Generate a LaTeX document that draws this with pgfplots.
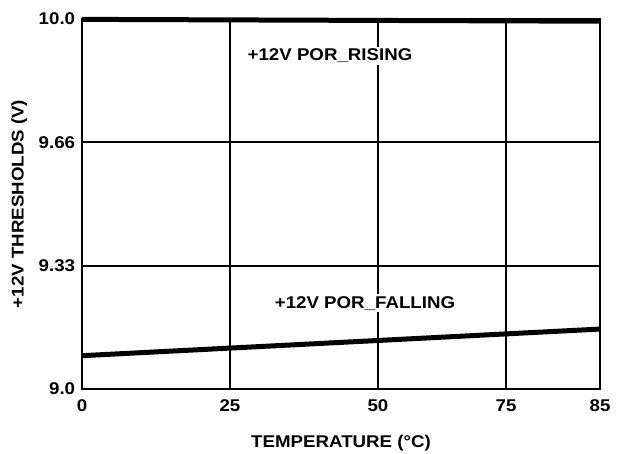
\documentclass[border=0pt]{standalone}
\usepackage{fontspec}
\setmainfont{Liberation Sans}[FakeStretch=1.1]
\usepackage{pgfplots}
\pgfplotsset{compat=1.18}

\begin{document}
\begin{tikzpicture}
\fontsize{17}{20}\selectfont\bfseries
% page frame: reference keeps white margins round the plot
\path[use as bounding box] (-82pt,-64pt) rectangle (542pt,389pt);
\begin{axis}[
    anchor=south west,
    at={(0,0)},
    scale only axis,
    width=518pt, height=370pt,
    xmin=0, xmax=518,
    ymin=9.0, ymax=10.0,
    % grid of the original is not evenly spaced in temperature
    xtick={0,148,296,424,518},
    xticklabels={0,25,50,75,85},
    ytick={9.0,9.3333,9.6667,10.0},
    yticklabels={9.0,9.33,9.66,10.0},
    grid=major,
    grid style={black, line width=1.8pt},
    axis line style={black, line width=1.8pt},
    tick style={draw=none},
    xticklabel style={yshift=-5pt},
    yticklabel style={xshift=-1pt},
    ticklabel style={font=\fontsize{17}{20}\selectfont\bfseries},
    /pgf/number format/assume math mode=true,
    xlabel={TEMPERATURE (°C)},
    ylabel={+12V THRESHOLDS (V)},
    label style={font=\fontsize{17}{20}\selectfont\bfseries},
    xlabel style={yshift=-12pt},
    ylabel style={yshift=0pt},
    clip=false,
]
\addplot[black, line width=5pt] coordinates {(0,9.999) (518,9.994)};
\addplot[black, line width=5pt] coordinates {(0,9.090) (518,9.162)};
\node[fill=white, inner sep=2pt] at (axis cs:248,9.90) {+12V POR\_RISING};
\node[fill=white, inner sep=2pt] at (axis cs:283,9.232) {+12V POR\_FALLING};
\end{axis}
\end{tikzpicture}
\end{document}
